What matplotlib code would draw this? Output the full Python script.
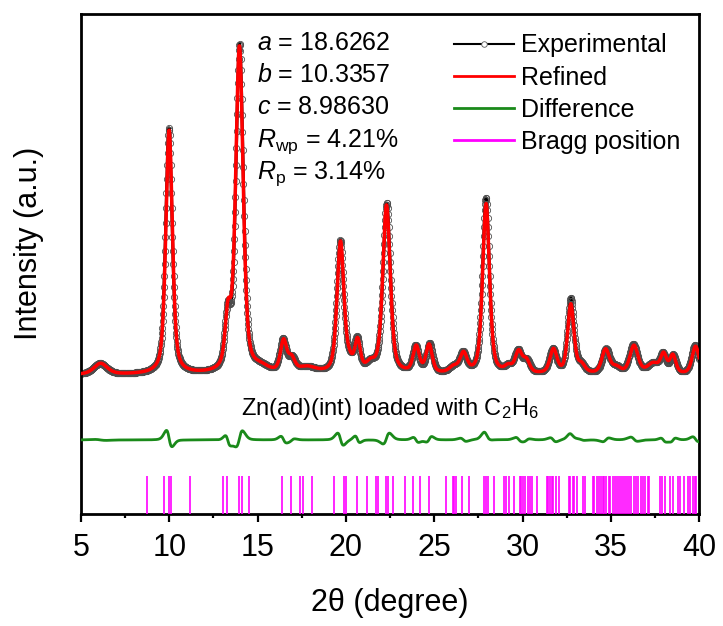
import numpy as np
import matplotlib.pyplot as plt
from matplotlib.lines import Line2D

plt.rcParams['font.family'] = 'Liberation Sans'
plt.rcParams['mathtext.fontset'] = 'custom'
plt.rcParams['mathtext.rm'] = 'Liberation Sans'
plt.rcParams['mathtext.it'] = 'Liberation Sans:italic'

# peaks (heights in arbitrary units above the background)
peak_pos = [6.08, 9.98, 13.30, 13.98, 15.2, 16.44, 16.95, 17.8, 19.68, 20.2, 20.63,
            21.4, 22.31, 23.95, 24.74, 26.1, 26.63, 27.93, 29.2, 29.75, 30.25,
            31.72, 32.73, 33.3, 34.73, 35.3, 36.28, 37.4, 37.96, 38.54, 39.77]
peak_obs = [11, 246, 52, 328, 5, 32, 13, 6, 132, 8, 31,
            8, 170, 26, 29, 6, 19, 176, 6, 22, 12,
            24, 75, 8, 24, 6, 29, 10, 18, 18, 29]
peak_calc = [11, 244, 52, 326, 5, 31, 13, 6, 131, 8, 30,
             8, 168, 26, 28, 6, 19, 170, 6, 21, 12,
             24, 69, 8, 24, 6, 28, 10, 18, 18, 28]
peak_shift = [0.03, 0.011, 0.025, -0.009, 0, 0.03, -0.03, 0, 0.016, 0, 0.03,
              0, -0.012, 0.03, -0.03, 0, 0.03, 0.006, 0, 0.03, -0.03,
              0.03, 0.004, 0.03, -0.03, 0, 0.03, 0, 0.03, -0.03, 0.03]
peak_fwhm = [0.9, 0.44, 0.38, 0.50, 1.0, 0.42, 0.45, 1.2, 0.46, 0.4, 0.37,
             0.6, 0.50, 0.42, 0.42, 0.6, 0.47, 0.46, 0.5, 0.47, 0.45,
             0.47, 0.42, 0.5, 0.5, 0.6, 0.55, 0.8, 0.4, 0.4, 0.47]
background = 139
diff_offset = 74

bragg_pos = [8.76, 9.69, 9.98, 10.07, 11.17, 13.03, 13.28, 13.92, 14.10, 14.54,
             16.40, 16.88, 17.40, 17.59, 18.09, 19.31, 19.91, 20.02, 20.63, 21.18,
             21.73, 21.84, 22.25, 22.36, 22.64, 23.37, 23.82, 24.19, 24.73, 25.66,
             26.05, 26.14, 26.23, 26.55, 26.96, 27.83, 27.92, 28.05, 28.40, 28.96,
             29.06, 29.24, 29.51, 29.85, 29.92, 30.01, 30.15, 30.33, 30.42, 30.56,
             30.83, 31.40, 31.47, 31.56, 31.65, 31.74, 31.92, 32.08, 32.61, 32.70,
             32.83, 32.92, 33.11, 33.45, 33.56, 33.97, 34.06, 34.20, 34.31, 34.42,
             34.55, 34.64, 34.75, 34.88, 34.97, 35.10, 35.22, 35.33, 35.45, 35.56,
             35.70, 35.79, 35.92, 36.03, 36.15, 36.30, 36.42, 36.55, 36.68, 36.80,
             36.95, 37.08, 37.18, 37.77, 37.88, 38.06, 38.33, 38.52, 38.79, 38.91,
             39.14, 39.37, 39.48, 39.66, 39.75, 39.84]


def pseudo_voigt(x, c, h, w):
    t = ((x - c) / w) ** 2
    return h * (0.5 * np.exp(-4 * np.log(2) * t) + 0.5 / (1 + 4 * t))


two_theta = np.arange(5, 40.001, 0.02)
obs = np.full_like(two_theta, background, dtype=float)
calc = np.full_like(two_theta, background, dtype=float)
for c, ho, hc, s, w in zip(peak_pos, peak_obs, peak_calc, peak_shift, peak_fwhm):
    obs += pseudo_voigt(two_theta, c, ho, w)
    calc += pseudo_voigt(two_theta, c + s, hc, w)
diff = obs - calc + diff_offset

fig = plt.figure(figsize=(7.23, 6.26), dpi=100)
ax = fig.add_axes([0.112, 0.179, 0.855, 0.799])

ax.plot(two_theta, obs, color='black', lw=2.2, marker='o', ms=4.5,
        mfc='none', mec='0.3', mew=0.6, zorder=2)
ax.plot(two_theta, calc, color='red', lw=2.5, zorder=3)
ax.plot(two_theta, diff, color='#1a8a1a', lw=2, zorder=3)
ax.vlines(bragg_pos, 0, 38, color='magenta', lw=1.2, zorder=3)

ax.set_xlim(5, 40)
ax.set_ylim(0, 500)
ax.set_yticks([])
ax.set_xticks(np.arange(5, 41, 5))
ax.set_xticks(np.arange(5, 40.1, 2.5), minor=True)
ax.tick_params(axis='x', which='major', direction='out', length=6, width=1.6,
               labelsize=22, pad=8)
ax.tick_params(axis='x', which='minor', direction='out', length=3, width=1.6)
for sp in ax.spines.values():
    sp.set_linewidth(2)

ax.set_xlabel('2θ (degree)', fontsize=22)
ax.xaxis.set_label_coords(0.5, -0.148)
ax.set_ylabel('Intensity (a.u.)', fontsize=22)
ax.yaxis.set_label_coords(-0.06, 0.54)

params = [r'$a$ = 18.6262', r'$b$ = 10.3357', r'$c$ = 8.98630',
          r'$R_{\mathrm{wp}}$ = 4.21%', r'$R_{\mathrm{p}}$ = 3.14%']
for i, s in enumerate(params):
    ax.text(14.97, 464 - 32.2 * i, s, fontsize=18, va='baseline', ha='left')

ax.text(22.5, 105, 'Zn(ad)(int) loaded with C$_2$H$_6$', fontsize=17,
        ha='center', va='center')

handles = [
    Line2D([], [], color='black', lw=1.5, marker='o', ms=4, mfc='white',
           mec='0.35', mew=0.6),
    Line2D([], [], color='red', lw=2),
    Line2D([], [], color='#1a8a1a', lw=2),
    Line2D([], [], color='magenta', lw=2),
]
ax.legend(handles, ['Experimental', 'Refined', 'Difference', 'Bragg position'],
          loc='upper left', bbox_to_anchor=(0.603, 0.961), frameon=False,
          fontsize=18, handlelength=2.4, handletextpad=0.3,
          labelspacing=0.33, borderpad=0, borderaxespad=0)

fig.savefig('out.png', dpi=100)
